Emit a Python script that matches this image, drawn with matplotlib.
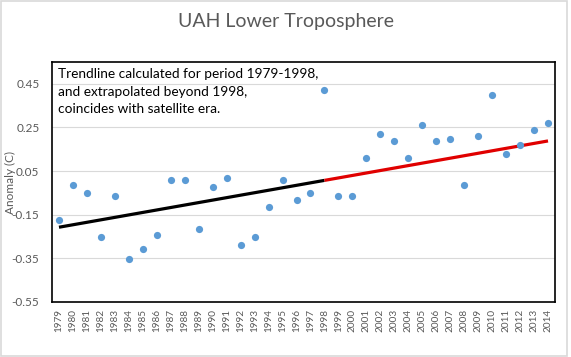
import numpy as np
import matplotlib
matplotlib.use("Agg")
import matplotlib.pyplot as plt
from matplotlib.patches import Rectangle

plt.rcParams['font.family'] = ['Lato', 'DejaVu Sans']

years = list(range(1979, 2015))
anomaly = [-0.172, -0.013, -0.049, -0.250, -0.063, -0.352, -0.309, -0.241, 0.010, 0.010,
           -0.214, -0.022, 0.019, -0.291, -0.250, -0.113, 0.010, -0.081, -0.049, 0.421,
           -0.063, -0.063, 0.111, 0.220, 0.188, 0.111, 0.261, 0.188, 0.197, -0.013,
           0.211, 0.398, 0.129, 0.170, 0.239, 0.271]
fit_start, fit_end = 1979, 1998
yticks = [-0.55, -0.35, -0.15, 0.05, 0.25, 0.45]
title = "UAH Lower Troposphere"
note = "Trendline calculated for period 1979-1998,\nand extrapolated beyond 1998,\ncoincides with satellite era."

yrs = np.array(years)
vals = np.array(anomaly)
mask = (yrs >= fit_start) & (yrs <= fit_end)
slope, intercept = np.polyfit(yrs[mask], vals[mask], 1)

fig = plt.figure(figsize=(5.71, 3.57), dpi=100)
ax = fig.add_axes([52/571, 1-302/357, 503/571, 240/357])

gray = '#595959'
for yv in yticks:
    ax.axhline(yv, color='#d9d9d9', lw=0.8, zorder=0)

ax.plot(yrs, vals, 'o', color='#5b9bd5', markersize=5.2, markeredgewidth=0, zorder=3)

x1 = yrs[mask]
ax.plot(x1, slope*x1 + intercept, color='black', lw=2.3, zorder=2, solid_capstyle='butt')
x2 = yrs[yrs >= fit_end]
ax.plot(x2, slope*x2 + intercept, color='#e00000', lw=2.3, zorder=2, solid_capstyle='butt')

ax.set_xlim(1978.5, 2014.5)
ax.set_ylim(-0.55, 0.55)
ax.set_yticks(yticks)
ax.set_yticklabels([f"{v:.2f}" for v in yticks], fontsize=8.5, color=gray)
ax.set_xticks(years)
ax.set_xticklabels([str(y) for y in years], rotation=90, fontsize=7.2, color=gray)
ax.tick_params(axis='both', length=0, pad=5)
ax.tick_params(axis='y', pad=9)
for s in ax.spines.values():
    s.set_color('black')
    s.set_linewidth(1.2)

ax.set_ylabel("Anomaly (C)", fontsize=8.5, color=gray)
ax.yaxis.set_label_coords(-0.072, 0.5)

ax.text(0.012, 0.975, note, transform=ax.transAxes, ha='left', va='top',
        fontsize=9.8, color='black', linespacing=1.55)

fig.text(286/571, 1-22/357, title, ha='center', va='center', fontsize=14, color=gray)

fig.patches.append(Rectangle((0.5/571, 1-356/357), 566/571, 355.5/357, transform=fig.transFigure,
                             fill=False, edgecolor='#d9d9d9', lw=1.2))

fig.savefig('out.png', dpi=100)
